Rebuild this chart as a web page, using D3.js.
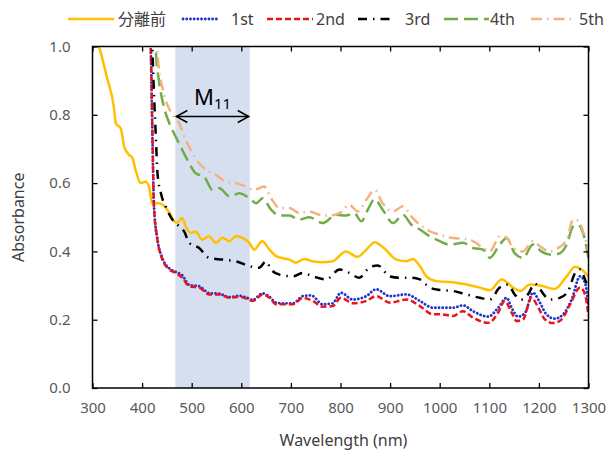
<!DOCTYPE html>
<html>
<head>
<meta charset="utf-8">
<script src="https://cdn.jsdelivr.net/npm/d3@7"></script>
<style>
  body { margin: 0; background: #fff; }
  svg { display: block; font-family: "Noto Sans", "Noto Sans CJK JP", sans-serif; }
</style>
</head>
<body>
<svg id="chart" width="606" height="450"></svg>
<script>
// series names (legend order)
var seriesNames = ["分離前", "1st", "2nd", "3rd", "4th", "5th"];

// [wavelength nm, absorbance]
var before = [[305,1.03],[313,1.0],[329,0.91],[343,0.823],[347,0.775],[357,0.76],[364,0.706],[374,0.682],[380,0.675],
  [387,0.638],[397,0.60],[407,0.604],[414,0.59],[420,0.542],[428,0.542],[438,0.54],[455,0.513],[465,0.488],[471,0.484],
  [481,0.498],[488,0.473],[498,0.454],[508,0.458],[521,0.434],[535,0.444],[549,0.425],[562,0.44],[576,0.43],[589,0.444],
  [602,0.44],[616,0.425],[626,0.405],[642,0.43],[657,0.405],[670,0.386],[684,0.38],[697,0.376],[710,0.367],[727,0.378],
  [743,0.371],[764,0.368],[784,0.371],[811,0.40],[834,0.384],[852,0.405],[869,0.427],[885,0.413],[913,0.376],[933,0.371],
  [946,0.378],[960,0.357],[973,0.327],[993,0.313],[1010,0.311],[1026,0.31],[1054,0.303],[1081,0.294],[1101,0.286],
  [1125,0.318],[1148,0.294],[1162,0.284],[1182,0.303],[1202,0.30],[1232,0.29],[1256,0.327],[1273,0.355],[1286,0.347],[1300,0.326]];

var first = [[416,1.1],[417.5,1.0],[421,0.726],[424,0.53],[431,0.434],[441,0.38],[455,0.35],[468,0.34],[481,0.33],
  [495,0.302],[515,0.298],[535,0.278],[556,0.276],[576,0.266],[596,0.27],[610,0.265],[623,0.258],[643,0.277],[657,0.267],
  [670,0.25],[684,0.248],[704,0.248],[724,0.269],[741,0.271],[764,0.245],[784,0.248],[801,0.279],[825,0.259],[852,0.269],
  [872,0.289],[899,0.269],[933,0.274],[960,0.255],[986,0.235],[1000,0.235],[1027,0.235],[1047,0.242],[1067,0.225],
  [1098,0.209],[1118,0.235],[1135,0.264],[1145,0.235],[1158,0.209],[1172,0.22],[1188,0.279],[1202,0.25],[1215,0.216],
  [1232,0.203],[1249,0.216],[1266,0.259],[1283,0.327],[1293,0.308],[1300,0.24]];

var second = [[416,1.1],[417.5,1.0],[421,0.726],[424,0.53],[431,0.434],[441,0.376],[455,0.347],[468,0.337],[481,0.323],
  [495,0.298],[515,0.294],[535,0.274],[556,0.274],[576,0.264],[596,0.267],[610,0.262],[623,0.255],[643,0.274],[657,0.264],
  [670,0.245],[684,0.245],[704,0.245],[724,0.264],[744,0.255],[764,0.238],[784,0.24],[801,0.264],[825,0.248],[852,0.255],
  [872,0.269],[899,0.25],[933,0.259],[960,0.24],[986,0.216],[1000,0.216],[1027,0.211],[1047,0.225],[1067,0.206],
  [1098,0.191],[1118,0.221],[1131,0.255],[1145,0.221],[1155,0.196],[1168,0.201],[1185,0.264],[1199,0.235],[1212,0.201],
  [1229,0.19],[1246,0.201],[1263,0.245],[1283,0.294],[1293,0.274],[1300,0.211]];

var third = [[419,1.1],[421,0.99],[428,0.726],[431,0.629],[438,0.57],[448,0.53],[461,0.493],[475,0.473],[485,0.458],
  [495,0.425],[515,0.41],[535,0.381],[562,0.376],[589,0.371],[616,0.357],[636,0.352],[650,0.371],[660,0.347],[677,0.332],
  [704,0.327],[724,0.337],[744,0.327],[771,0.318],[798,0.347],[818,0.337],[838,0.323],[858,0.352],[875,0.359],[899,0.327],
  [919,0.323],[939,0.323],[960,0.318],[980,0.294],[1000,0.287],[1027,0.284],[1054,0.274],[1081,0.264],[1101,0.259],
  [1121,0.294],[1138,0.303],[1151,0.274],[1165,0.259],[1178,0.274],[1192,0.306],[1202,0.289],[1222,0.259],[1242,0.264],
  [1259,0.284],[1273,0.337],[1283,0.347],[1293,0.318],[1300,0.289]];

var fourth = [[425,1.1],[428,0.98],[434,0.9],[444,0.823],[455,0.775],[468,0.735],[481,0.697],[495,0.658],[508,0.629],
  [525,0.619],[542,0.58],[556,0.585],[576,0.561],[596,0.57],[616,0.556],[630,0.541],[643,0.556],[660,0.522],[677,0.505],
  [697,0.505],[717,0.493],[737,0.5],[764,0.483],[791,0.507],[811,0.505],[828,0.512],[842,0.488],[855,0.522],[869,0.553],
  [885,0.522],[906,0.483],[926,0.507],[943,0.478],[960,0.464],[980,0.444],[1000,0.43],[1020,0.42],[1047,0.425],[1067,0.41],
  [1088,0.405],[1101,0.381],[1121,0.42],[1135,0.439],[1151,0.395],[1168,0.381],[1188,0.42],[1205,0.40],[1222,0.391],
  [1239,0.393],[1256,0.42],[1269,0.473],[1279,0.478],[1290,0.449],[1300,0.381]];

var fifth = [[428,1.1],[431,0.98],[444,0.862],[458,0.808],[475,0.775],[488,0.726],[502,0.687],[515,0.658],[535,0.634],
  [549,0.624],[569,0.604],[589,0.6],[609,0.59],[626,0.58],[646,0.59],[660,0.556],[677,0.527],[697,0.527],[717,0.512],
  [737,0.517],[758,0.507],[778,0.505],[798,0.512],[818,0.536],[835,0.517],[852,0.551],[869,0.58],[885,0.541],[906,0.517],
  [926,0.532],[943,0.502],[960,0.478],[980,0.459],[1000,0.449],[1027,0.439],[1047,0.437],[1067,0.43],[1088,0.41],
  [1101,0.40],[1121,0.444],[1135,0.44],[1148,0.41],[1168,0.40],[1188,0.43],[1202,0.415],[1222,0.40],[1239,0.41],
  [1256,0.434],[1269,0.493],[1279,0.49],[1290,0.454],[1300,0.40]];

var xTicks = [300, 400, 500, 600, 700, 800, 900, 1000, 1100, 1200, 1300];
var yTicks = [0.0, 0.2, 0.4, 0.6, 0.8, 1.0];
var bandRange = [467, 617];   // M11 region

var allSeries = [before, first, second, third, fourth, fifth];
var colors = ["#ffc000", "#2233cc", "#e8141c", "#000000", "#70ad47", "#f4b183"];
var dashes = ["none", "0.1 3.6", "6 3", "9 6 1.5 6", "14 6", "11 5 1.5 5"];

var svg = d3.select("#chart");
var pLeft = 92.5, pRight = 588.5, pTop = 46.5, pBottom = 388;

var x = d3.scaleLinear().domain([300, 1300]).range([pLeft, pRight]);
var y = d3.scaleLinear().domain([0, 1]).range([pBottom, pTop]);

svg.append("defs").append("clipPath").attr("id", "plotclip")
  .append("rect")
    .attr("x", pLeft).attr("y", pTop)
    .attr("width", pRight - pLeft).attr("height", pBottom - pTop);

// shaded band
svg.append("rect")
    .attr("x", x(bandRange[0]))
    .attr("y", pTop)
    .attr("width", x(bandRange[1]) - x(bandRange[0]))
    .attr("height", pBottom - pTop)
    .style("fill", "#d6dff0");

// lines
var line = d3.line()
    .x(function(d) { return x(d[0]); })
    .y(function(d) { return y(d[1]); })
    .curve(d3.curveMonotoneX);

var plot = svg.append("g").attr("clip-path", "url(#plotclip)");
allSeries.forEach(function(s, i) {
  plot.append("path")
      .datum(s)
      .attr("d", line)
      .style("fill", "none")
      .style("stroke", colors[i])
      .style("stroke-width", i == 1 ? 2.8 : 2.5)
      .style("stroke-dasharray", dashes[i])
      .style("stroke-linecap", i == 1 ? "round" : "butt")
      .style("stroke-linejoin", "round");
});

// axes: ticks point inward on all four sides
var tickColor = "#595959";
var gx = svg.append("g").attr("transform", "translate(0," + pBottom + ")")
    .call(d3.axisBottom(x).tickValues(xTicks).tickSizeInner(-5).tickSizeOuter(0).tickPadding(14)
      .tickFormat(d3.format("d")));
var gy = svg.append("g").attr("transform", "translate(" + pLeft + ",0)")
    .call(d3.axisLeft(y).tickValues(yTicks).tickSizeInner(-5).tickSizeOuter(0).tickPadding(22)
      .tickFormat(d3.format(".1f")));
var gt = svg.append("g").attr("transform", "translate(0," + pTop + ")")
    .call(d3.axisTop(x).tickValues(xTicks).tickSizeInner(-5).tickSizeOuter(0).tickFormat(""));
var gr = svg.append("g").attr("transform", "translate(" + pRight + ",0)")
    .call(d3.axisRight(y).tickValues(yTicks).tickSizeInner(-5).tickSizeOuter(0).tickFormat(""));

[gx, gy, gt, gr].forEach(function(g) {
  g.select(".domain").remove();
  g.selectAll(".tick line").attr("stroke", "#000").attr("stroke-width", 1.3);
  g.selectAll(".tick text")
      .attr("fill", tickColor)
      .style("font-size", "15px")
      .style("font-family", "'Noto Sans', sans-serif");
});

svg.append("rect")
    .attr("x", pLeft).attr("y", pTop)
    .attr("width", pRight - pLeft).attr("height", pBottom - pTop)
    .style("fill", "none")
    .style("stroke", "#000")
    .style("stroke-width", 1.5);

// axis titles
svg.append("text")
    .text("Wavelength (nm)")
    .attr("x", (pLeft + pRight) / 2 + 3)
    .attr("y", 446)
    .attr("fill", "#404040")
    .style("font-size", "16px")
    .style("text-anchor", "middle");
svg.append("text")
    .text("Absorbance")
    .attr("transform", "translate(24," + ((pTop + pBottom) / 2) + ") rotate(-90)")
    .attr("fill", "#404040")
    .style("font-size", "16px")
    .style("text-anchor", "middle");

// M11 double arrow
var ay = y(0.795);
var ax0 = x(bandRange[0]) + 1, ax1 = x(bandRange[1]) - 1;
svg.append("line")
    .attr("x1", ax0).attr("y1", ay).attr("x2", ax1).attr("y2", ay)
    .style("stroke", "#000").style("stroke-width", 1.5);
svg.append("path")
    .attr("d", "M" + (ax0 + 11) + "," + (ay - 6) + "L" + ax0 + "," + ay + "L" + (ax0 + 11) + "," + (ay + 6))
    .style("fill", "none").style("stroke", "#000").style("stroke-width", 1.5);
svg.append("path")
    .attr("d", "M" + (ax1 - 11) + "," + (ay - 6) + "L" + ax1 + "," + ay + "L" + (ax1 - 11) + "," + (ay + 6))
    .style("fill", "none").style("stroke", "#000").style("stroke-width", 1.5);
var mLabel = svg.append("text")
    .attr("x", (ax0 + ax1) / 2)
    .attr("y", ay - 12)
    .attr("fill", "#000")
    .style("font-size", "22px")
    .style("text-anchor", "middle");
mLabel.append("tspan").text("M");
mLabel.append("tspan").text("11").attr("dy", 4).style("font-size", "15px");

// legend
var legendLineX = [68, 183, 267, 358, 444, 531];
var legendLineW = [46, 35, 46, 36, 45, 44];
var legendTextX = [118, 231, 316, 405, 490, 579];
var ly = 19;
seriesNames.forEach(function(name, i) {
  svg.append("line")
      .attr("x1", legendLineX[i]).attr("y1", ly)
      .attr("x2", legendLineX[i] + legendLineW[i]).attr("y2", ly)
      .style("stroke", colors[i])
      .style("stroke-width", i == 1 ? 2.8 : 2.5)
      .style("stroke-dasharray", dashes[i])
      .style("stroke-linecap", i == 1 ? "round" : "butt");
  svg.append("text")
      .text(name)
      .attr("x", legendTextX[i])
      .attr("y", ly)
      .attr("dy", "0.35em")
      .attr("fill", "#404040")
      .style("font-size", "16px");
});
</script>
</body>
</html>
